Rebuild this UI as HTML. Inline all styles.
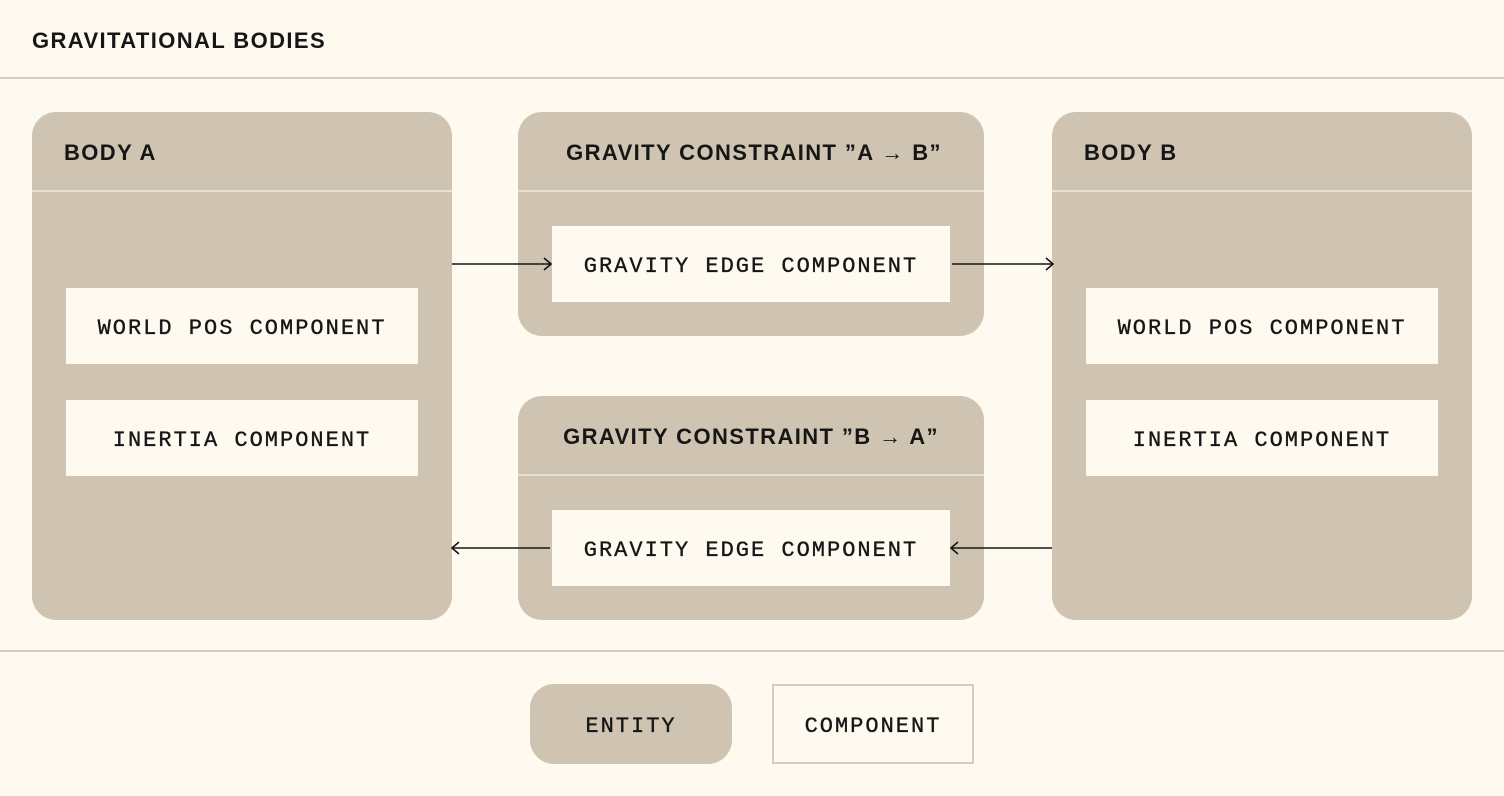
<!DOCTYPE html>
<html><head><meta charset="utf-8"><style>
html,body{margin:0;padding:0;background:#fefaef;}
svg{display:block}
.h{font-family:"Liberation Sans",sans-serif;font-weight:bold;font-size:22px;fill:#161616;letter-spacing:1.4px}
.m{font-family:"Liberation Mono",monospace;font-size:22px;fill:#161616;stroke:#161616;stroke-width:0.35;letter-spacing:2px}
</style></head><body>
<svg width="1504" height="796" viewBox="0 0 1504 796" xmlns="http://www.w3.org/2000/svg">
<defs><marker id="a" markerWidth="12" markerHeight="14" refX="11" refY="7" orient="auto" markerUnits="userSpaceOnUse"><path d="M4,1 L11,7 L4,13" fill="none" stroke="#161616" stroke-width="1.6"/></marker></defs>
<rect width="1504" height="796" rx="10" fill="#fefaef"/>
<text x="32" y="48" class="h">GRAVITATIONAL BODIES</text>
<rect x="0" y="77" width="1504" height="2" fill="#d5ccbb"/>
<rect x="0" y="650" width="1504" height="2" fill="#d5ccbb"/>

<rect x="32" y="112" width="420" height="508" rx="24" fill="#cfc4b2"/>
<rect x="32" y="190" width="420" height="2" fill="#e8dfcf"/>
<text x="64" y="160" class="h">BODY A</text>
<rect x="66" y="288" width="352" height="76" fill="#fefaef"/>
<text x="242" y="334" class="m" text-anchor="middle">WORLD POS COMPONENT</text>
<rect x="66" y="400" width="352" height="76" fill="#fefaef"/>
<text x="242" y="446" class="m" text-anchor="middle">INERTIA COMPONENT</text>

<rect x="1052" y="112" width="420" height="508" rx="24" fill="#cfc4b2"/>
<rect x="1052" y="190" width="420" height="2" fill="#e8dfcf"/>
<text x="1084" y="160" class="h">BODY B</text>
<rect x="1086" y="288" width="352" height="76" fill="#fefaef"/>
<text x="1262" y="334" class="m" text-anchor="middle">WORLD POS COMPONENT</text>
<rect x="1086" y="400" width="352" height="76" fill="#fefaef"/>
<text x="1262" y="446" class="m" text-anchor="middle">INERTIA COMPONENT</text>

<rect x="518" y="112" width="466" height="224" rx="24" fill="#cfc4b2"/>
<rect x="518" y="190" width="466" height="2" fill="#e8dfcf"/>
<text x="754" y="160" class="h" text-anchor="middle">GRAVITY CONSTRAINT ”A → B”</text>
<rect x="552" y="226" width="398" height="76" fill="#fefaef"/>
<text x="751" y="272" class="m" text-anchor="middle">GRAVITY EDGE COMPONENT</text>

<rect x="518" y="396" width="466" height="224" rx="24" fill="#cfc4b2"/>
<rect x="518" y="474" width="466" height="2" fill="#e8dfcf"/>
<text x="751" y="444" class="h" text-anchor="middle">GRAVITY CONSTRAINT ”B → A”</text>
<rect x="552" y="510" width="398" height="76" fill="#fefaef"/>
<text x="751" y="556" class="m" text-anchor="middle">GRAVITY EDGE COMPONENT</text>

<line x1="452" y1="264" x2="551" y2="264" stroke="#161616" stroke-width="1.6" marker-end="url(#a)"/>
<line x1="952" y1="264" x2="1053" y2="264" stroke="#161616" stroke-width="1.6" marker-end="url(#a)"/>
<line x1="1052" y1="548" x2="951" y2="548" stroke="#161616" stroke-width="1.6" marker-end="url(#a)"/>
<line x1="550" y1="548" x2="452" y2="548" stroke="#161616" stroke-width="1.6" marker-end="url(#a)"/>

<rect x="530" y="684" width="202" height="80" rx="24" fill="#cfc4b2"/>
<text x="631" y="732" class="m" text-anchor="middle">ENTITY</text>
<rect x="773" y="685" width="200" height="78" fill="#fefaef" stroke="#d5ccbb" stroke-width="2"/>
<text x="873" y="732" class="m" text-anchor="middle">COMPONENT</text>
</svg>
</body></html>
